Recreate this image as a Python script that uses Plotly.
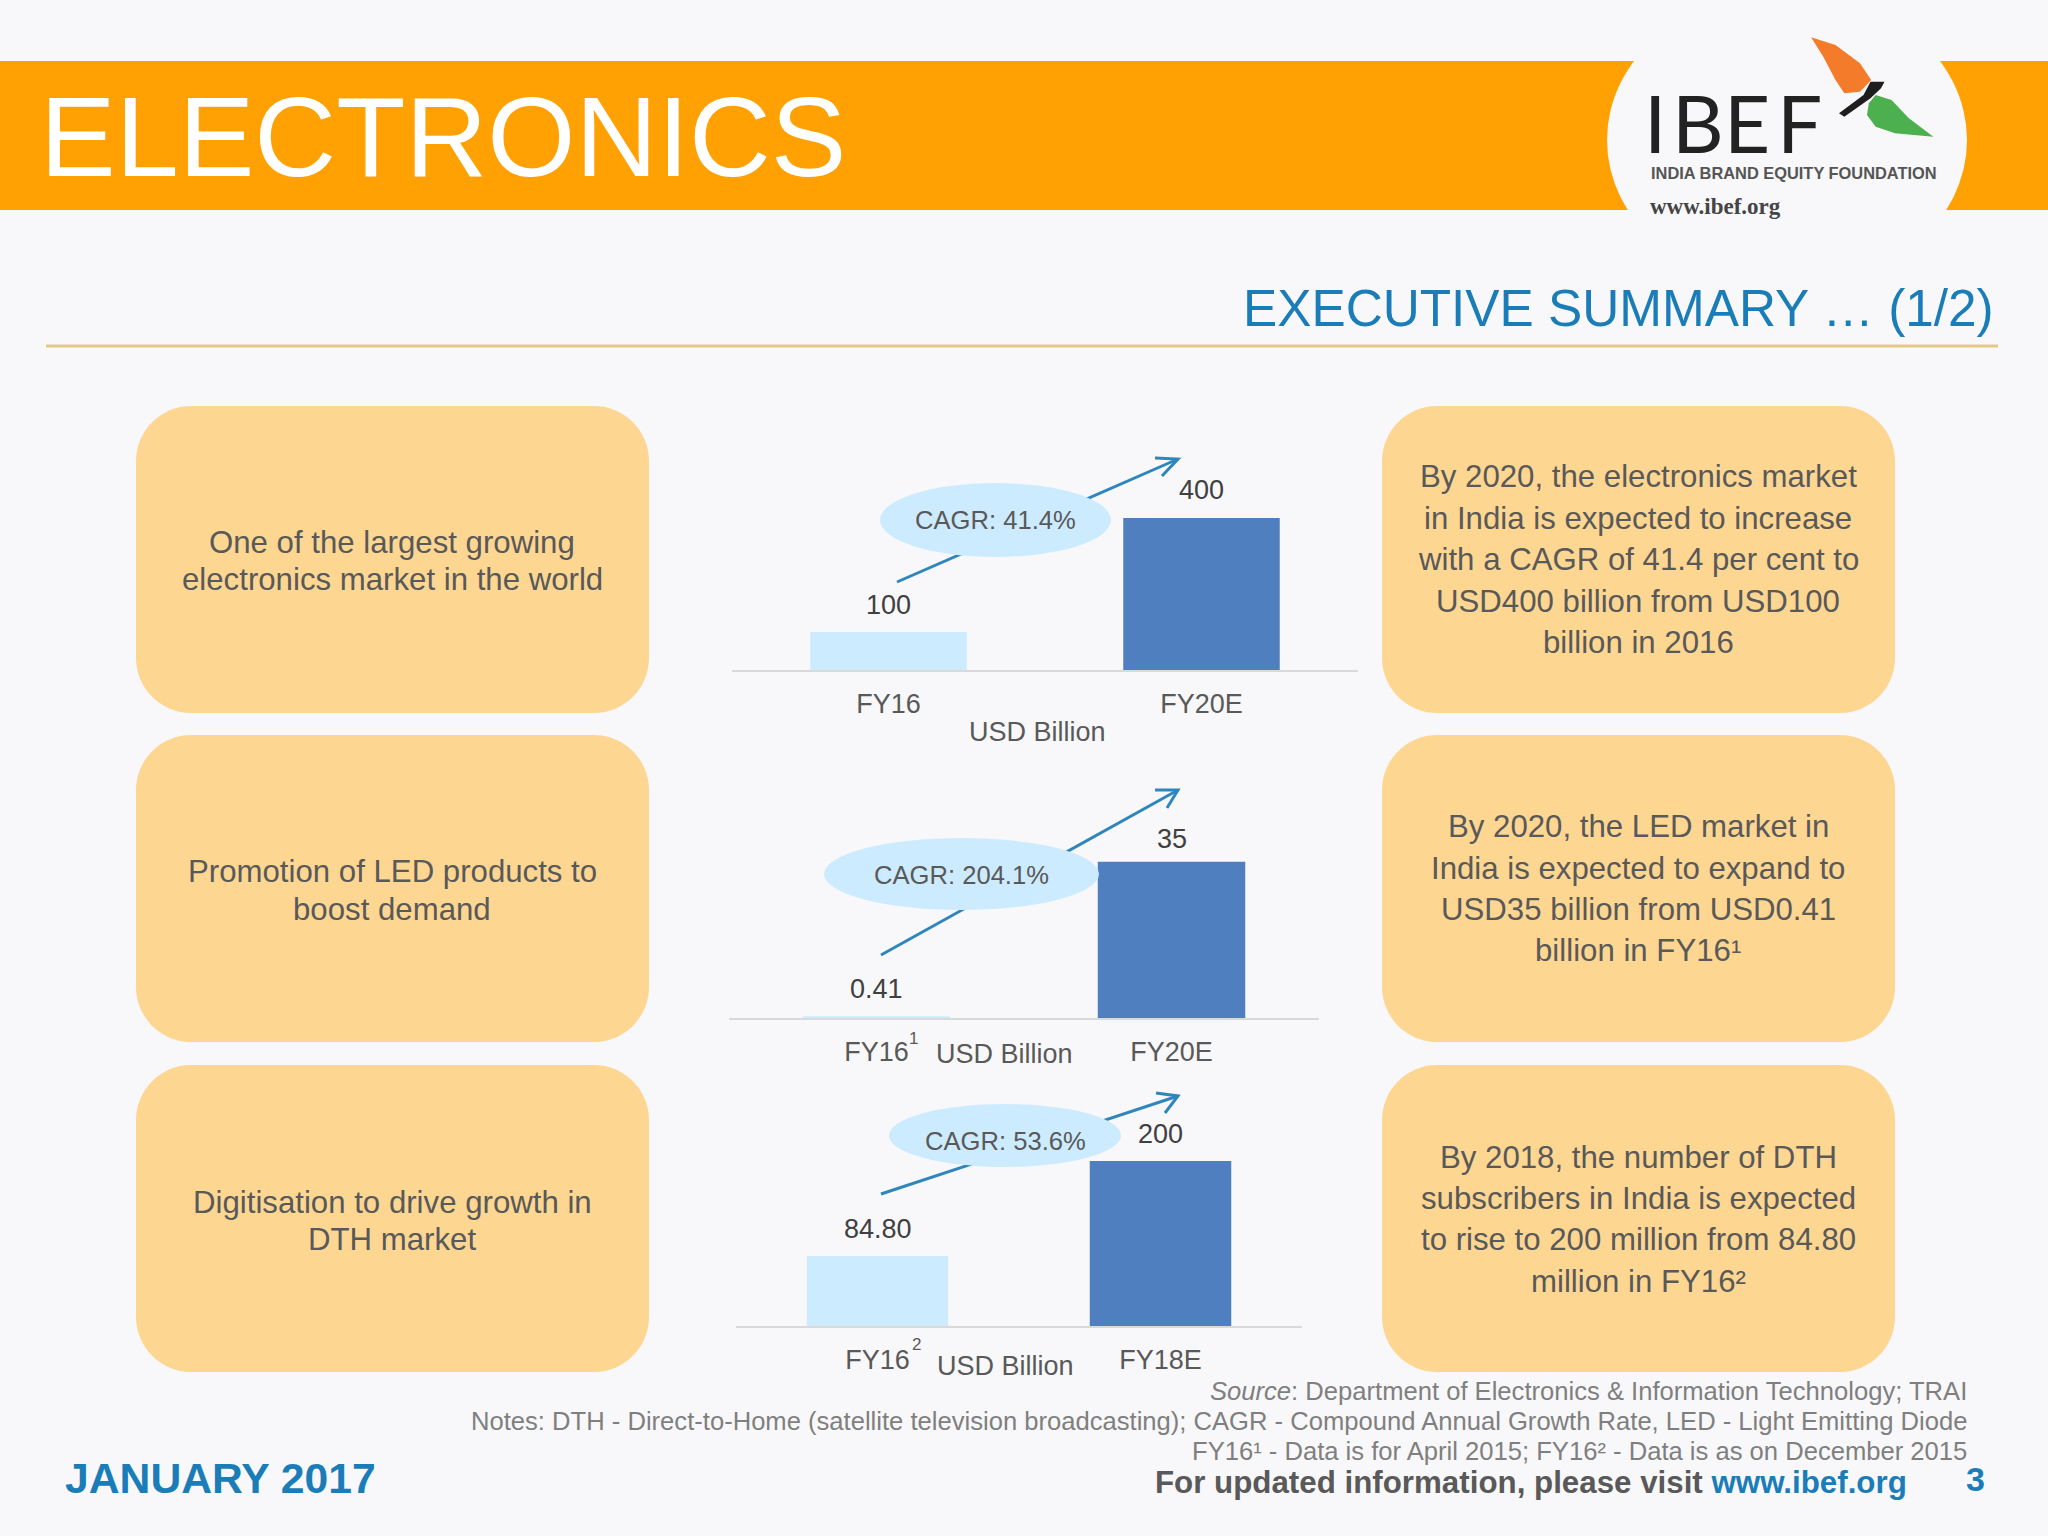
#!/usr/bin/env python3
"""IBEF electronics executive summary slide, rebuilt with plotly."""

import plotly.graph_objects as go

# ── Data ──────────────────────────────────────────────────────────────────────
CATS_MARKET = ["FY16", "FY20E"]
VALUES_MARKET = [100, 400]
LABELS_MARKET = ["100", "400"]

CATS_LED = ["FY16", "FY20E"]
VALUES_LED = [0.41, 35]
LABELS_LED = ["0.41", "35"]

CATS_DTH = ["FY16", "FY18E"]
VALUES_DTH = [84.80, 200]
LABELS_DTH = ["84.80", "200"]

CAGR_TEXT = ["CAGR: 41.4%", "CAGR: 204.1%", "CAGR: 53.6%"]
UNIT_TEXT = "USD Billion"

LEFT_TEXT = [
    ["One of the largest growing", "electronics market in the world"],
    ["Promotion of LED products to", "boost demand"],
    ["Digitisation to drive growth in", "DTH market"],
]
RIGHT_TEXT = [
    ["By 2020, the electronics market", "in India is expected to increase",
     "with a CAGR of 41.4 per cent to", "USD400 billion from USD100", "billion in 2016"],
    ["By 2020, the LED market in", "India is expected to expand to",
     "USD35 billion from USD0.41", "billion in FY16¹"],
    ["By 2018, the number of DTH", "subscribers in India is expected",
     "to rise to 200 million from 84.80", "million in FY16²"],
]
FOOT_NOTES = [
    "<i>Source</i>: Department of Electronics &amp; Information Technology; TRAI",
    "Notes: DTH - Direct-to-Home (satellite television broadcasting); CAGR - Compound Annual Growth Rate, LED - Light Emitting Diode",
    "FY16¹ - Data is for April 2015; FY16² - Data is as on December 2015",
]

# ── Config ────────────────────────────────────────────────────────────────────
W, H = 2048, 1536
BG = "#F8F8FA"
ORANGE = "#FFA102"
BOX = "#FDD692"
LIGHT = "#CDEBFF"
DARK = "#4F7FBE"
BLUE = "#1B7DB8"
ARROW = "#2E86BD"
TEXT = "#595959"
LABEL = "#404040"
NOTE = "#7F7F7F"
FONT = "Liberation Sans"

BOX_COLS = [(136, 649), (1382, 1895)]
BOX_ROWS = [(406, 713), (735, 1042), (1065, 1372)]
LEFT_Y = [[542, 579], [871, 909], [1202, 1239]]
RIGHT_Y = [[476, 518, 559, 601, 642], [826, 868, 909, 950], [1157, 1198, 1239, 1281]]

# chart geometry: axis left/right, baseline, pixel top of tallest bar
CHARTS = [
    dict(cats=CATS_MARKET, vals=VALUES_MARKET, labels=LABELS_MARKET, left=732, right=1358, base=670, top=518,
         shift=[27, 28], ell=(880, 483, 1111, 557), start=(897, 582), tip=(1178, 459),
         arms=[(1155, 458), (1162, 476)], unit=(1037, 732), cagr_dy=0, sup=None),
    dict(cats=CATS_LED, vals=VALUES_LED, labels=LABELS_LED, left=729, right=1319, base=1018, top=861.5,
         shift=[27, 23], ell=(824, 838, 1099, 910), start=(881, 955), tip=(1178, 790),
         arms=[(1155, 790), (1167, 808)], unit=(1004, 1054), cagr_dy=1, sup=("1", 913, 1038)),
    dict(cats=CATS_DTH, vals=VALUES_DTH, labels=LABELS_DTH, left=736, right=1302, base=1326, top=1161,
         shift=[27, 27], ell=(889, 1104, 1121, 1167), start=(881, 1194), tip=(1178, 1096),
         arms=[(1156, 1093), (1165, 1113)], unit=(1005, 1366), cagr_dy=5, sup=("2", 916, 1344)),
]


def rounded(x0, y0, x1, y1, r):
    k = r * 0.45
    return (
        f"M{x0 + r},{y0} L{x1 - r},{y0} C{x1 - k},{y0} {x1},{y0 + k} {x1},{y0 + r} "
        f"L{x1},{y1 - r} C{x1},{y1 - k} {x1 - k},{y1} {x1 - r},{y1} "
        f"L{x0 + r},{y1} C{x0 + k},{y1} {x0},{y1 - k} {x0},{y1 - r} "
        f"L{x0},{y0 + r} C{x0},{y0 + k} {x0 + k},{y0} {x0 + r},{y0} Z"
    )


def note(x, y, text, size, color=TEXT, anchor="center", family=FONT, **kw):
    return dict(
        xref="x", yref="y", x=x, y=y, text=text, showarrow=False,
        xanchor=anchor, yanchor="middle",
        font=dict(size=size, color=color, family=family), **kw,
    )


def poly(points):
    return "M" + " L".join(f"{1500 + zx / 2.861:.1f},{zy / 3:.1f}" for zx, zy in points) + " Z"


shapes = []
annotations = []

# ── Header ────────────────────────────────────────────────────────────────────
shapes.append(dict(type="rect", xref="x", yref="y", x0=0, x1=W, y0=61, y1=210, fillcolor=ORANGE, line_width=0))
shapes.append(dict(type="circle", xref="x", yref="y", x0=1607, x1=1967, y0=-10, y1=290, fillcolor=BG, line_width=0))
shapes.append(dict(type="rect", xref="x", yref="y", x0=1590, x1=1990, y0=210, y1=292, fillcolor=BG, line_width=0))

# bird logo
shapes.append(dict(type="path", xref="x", yref="y", fillcolor="#F47B2A", line_width=0, path=poly(
    [(890, 112), (960, 135), (1030, 190), (1062, 240), (1030, 275), (985, 280), (960, 240), (925, 170)])))
shapes.append(dict(type="path", xref="x", yref="y", fillcolor="#4DB04E", line_width=0, path=poly(
    [(1075, 285), (1120, 300), (1170, 355), (1240, 410), (1130, 400), (1075, 380), (1050, 345), (1055, 310)])))
shapes.append(dict(type="path", xref="x", yref="y", fillcolor="#1E1E1E", line_width=0, path=poly(
    [(1100, 245), (1060, 245), (1040, 285), (970, 340), (985, 350), (1060, 295), (1090, 265)])))

annotations.append(note(38, 136, "ELECTRONICS", 113.4, "white", "left"))
for x, ch in [(1655, "I"), (1698, "B"), (1747, "E"), (1799, "F")]:
    annotations.append(note(x, 122, ch, 80, "#222222", "center", "Lato"))
annotations.append(note(1649, 173, "<b>INDIA BRAND EQUITY FOUNDATION</b>", 16.4, "#555555", "left"))
annotations.append(note(1648, 206, "<b>www.ibef.org</b>", 23, "#444444", "left", "Liberation Serif"))

annotations.append(note(1996, 308, "EXECUTIVE SUMMARY … (1/2)", 51.3, BLUE, "right"))
shapes.append(dict(type="line", xref="x", yref="y", x0=46, x1=1998, y0=346, y1=346,
                   line=dict(color="#E3C887", width=3)))

# ── Text boxes ────────────────────────────────────────────────────────────────
for (y0, y1), left_lines, right_lines, left_y, right_y in zip(BOX_ROWS, LEFT_TEXT, RIGHT_TEXT, LEFT_Y, RIGHT_Y):
    for x0, x1 in BOX_COLS:
        shapes.append(dict(type="path", xref="x", yref="y", fillcolor=BOX, line_width=0,
                           path=rounded(x0, y0, x1, y1, 55)))
    for line, y in zip(left_lines, left_y):
        annotations.append(note(392, y, line, 31.2))
    for line, y in zip(right_lines, right_y):
        annotations.append(note(1638, y, line, 31.2))

# ── Charts ────────────────────────────────────────────────────────────────────
fig = go.Figure()
layout_axes = {}

for i, c in enumerate(CHARTS):
    n = i + 2
    xname, yname = f"x{n}", f"y{n}"

    fig.add_trace(go.Bar(
        x=[0, 1], y=c["vals"], width=0.5,
        marker=dict(color=[LIGHT, DARK], line_width=0),
        xaxis=xname, yaxis=yname, showlegend=False,
        hovertemplate="%{y}<extra></extra>",
    ))

    layout_axes[f"xaxis{n}"] = dict(
        domain=[c["left"] / W, c["right"] / W], anchor=yname, range=[-0.5, 1.5],
        tickmode="array", tickvals=[0, 1], ticktext=c["cats"],
        tickfont=dict(size=27, color=TEXT, family=FONT),
        showgrid=False, zeroline=False, showline=True, linecolor="#D9D9D9", linewidth=2,
        ticks="outside", ticklen=9, tickcolor="rgba(0,0,0,0)", fixedrange=True,
    )
    layout_axes[f"yaxis{n}"] = dict(
        domain=[1 - c["base"] / H, 1 - c["top"] / H], anchor=xname, range=[0, max(c["vals"])],
        visible=False, fixedrange=True,
    )

    # value labels sit on the bars through the chart's own axes
    for k, (val, lab, shift) in enumerate(zip(c["vals"], c["labels"], c["shift"])):
        annotations.append(dict(
            xref=xname, yref=yname, x=k, y=val, yshift=shift, text=lab, showarrow=False,
            xanchor="center", yanchor="middle", font=dict(size=27, color=LABEL, family=FONT),
        ))

    # footnote marks float clear of the tick label in the reference
    if c["sup"]:
        annotations.append(note(c["sup"][1], c["sup"][2], c["sup"][0], 17))

    # growth arrow with the CAGR ellipse on top of it
    sx, sy = c["start"]
    tx, ty = c["tip"]
    (ax, ay), (bx, by) = c["arms"]
    shapes.append(dict(type="line", xref="x", yref="y", x0=sx, y0=sy, x1=tx, y1=ty,
                       line=dict(color=ARROW, width=3)))
    shapes.append(dict(type="path", xref="x", yref="y", line=dict(color=ARROW, width=3),
                       path=f"M{ax},{ay} L{tx},{ty} L{bx},{by}"))
    ex0, ey0, ex1, ey1 = c["ell"]
    shapes.append(dict(type="circle", xref="x", yref="y", x0=ex0, y0=ey0, x1=ex1, y1=ey1,
                       fillcolor=LIGHT, line_width=0))
    annotations.append(note((ex0 + ex1) / 2, (ey0 + ey1) / 2 + c["cagr_dy"], CAGR_TEXT[i], 25.6))
    annotations.append(note(c["unit"][0], c["unit"][1], UNIT_TEXT, 27))

# ── Footer ────────────────────────────────────────────────────────────────────
for line, y in zip(FOOT_NOTES, [1391, 1421, 1451]):
    annotations.append(note(1969, y, line, 25.6, NOTE, "right"))
annotations.append(note(63, 1478, "<b>JANUARY 2017</b>", 42.7, BLUE, "left"))
annotations.append(note(
    1909, 1482,
    f"<b>For updated information, please visit <span style='color:{BLUE}'>www.ibef.org</span></b>",
    31.3, TEXT, "right",
))
annotations.append(note(1975, 1479, "<b>3</b>", 34, BLUE))

fig.update_layout(
    width=W, height=H,
    margin=dict(l=0, r=0, t=0, b=0),
    paper_bgcolor=BG, plot_bgcolor="rgba(0,0,0,0)",
    font=dict(family=FONT),
    showlegend=False,
    xaxis=dict(range=[0, W], domain=[0, 1], visible=False, fixedrange=True),
    yaxis=dict(range=[H, 0], domain=[0, 1], visible=False, fixedrange=True),
    shapes=shapes, annotations=annotations,
    **layout_axes,
)

fig.write_html("out.html", config=dict(displayModeBar=False),
               post_script="document.body.style.margin='0';")
